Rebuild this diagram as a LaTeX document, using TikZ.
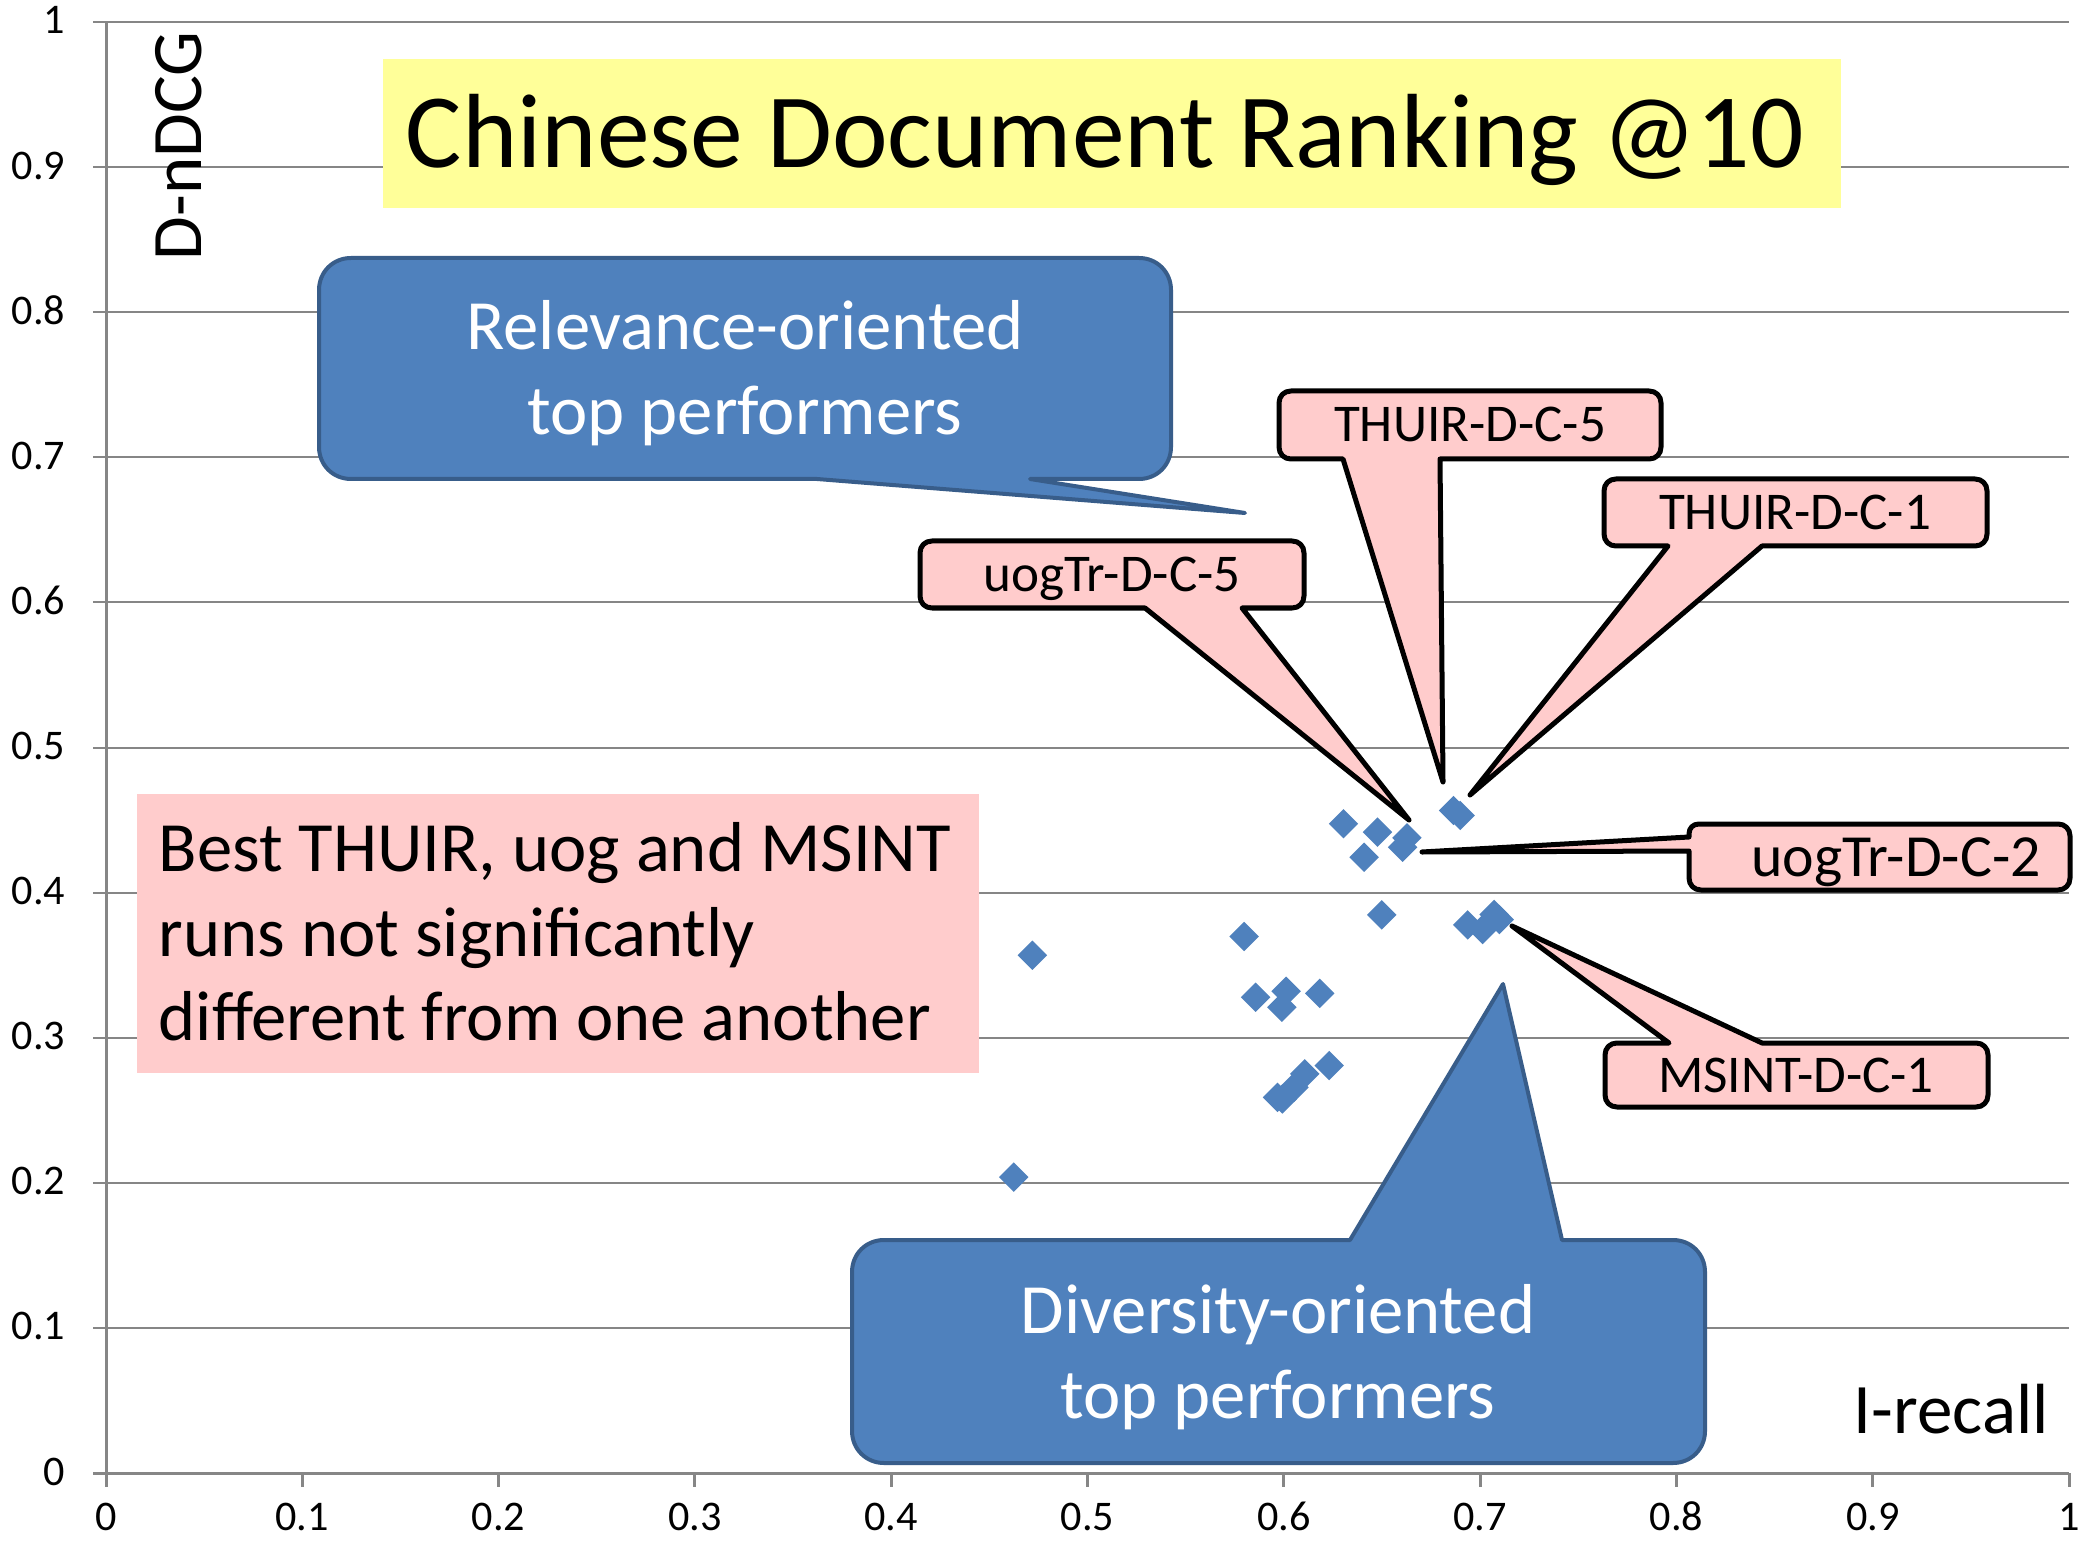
\documentclass[tikz,border=0pt]{standalone}
\usepackage{fontspec}
\setmainfont{Carlito}
\usetikzlibrary{shapes.geometric}

\definecolor{markblue}{HTML}{4F81BD}
\definecolor{calloutedge}{HTML}{385D8A}
\definecolor{notepink}{HTML}{FFCCCC}
\definecolor{titleyellow}{HTML}{FFFF99}
\definecolor{gridgray}{HTML}{868686}

\begin{document}
% one unit = 0.01cm, y grows downwards (page pixel grid 2082 x 1543)
\begin{tikzpicture}[x=0.01cm, y=-0.01cm,
  gridline/.style={draw=gridgray, line width=0.02cm},
  axisline/.style={draw=gridgray, line width=0.03cm},
  ticklabel/.style={font=\fontsize{12}{14}\selectfont, inner sep=0pt},
  axistitle/.style={font=\fontsize{20.2}{24}\selectfont, inner sep=0pt},
  marker/.style={diamond, fill=markblue, draw=none, inner sep=0pt,
    minimum width=0.3cm, minimum height=0.3cm},
  bluecallout/.style={fill=markblue, draw=calloutedge, line width=0.04cm, line join=round},
  pinkcallout/.style={fill=notepink, draw=black, line width=0.05cm, line join=round},
  bluetext/.style={text=white, font=\fontsize{20.1}{24}\selectfont, inner sep=0pt, anchor=base},
  notetext/.style={font=\fontsize{20.1}{24}\selectfont, inner sep=0pt, anchor=base west},
  runlabel/.style={font=\fontsize{15.1}{18}\selectfont, inner sep=0pt, anchor=base},
  titletext/.style={font=\fontsize{30}{36}\selectfont, inner sep=0pt, anchor=base}]

\useasboundingbox (0,0) rectangle (2082,1543);
\fill[white] (0,0) rectangle (2082,1543);

% horizontal gridlines and y ticks
\foreach \k in {1,...,10}
  \draw[gridline] (93,{1473-145.1*\k}) -- (2069,{1473-145.1*\k});

% axes
\draw[axisline] (106,22) -- (106,1473);
\draw[axisline] (93,1473) -- (2069,1473);
\foreach \k in {0,...,10}
  \draw[axisline] ({106+196.3*\k},1473) -- ({106+196.3*\k},1487);

% tick labels
\foreach \k/\t in {0/0,1/0.1,2/0.2,3/0.3,4/0.4,5/0.5,6/0.6,7/0.7,8/0.8,9/0.9,10/1} {
  \node[ticklabel, anchor=base east] (ylab\k) at (66,{1473-145.1*\k+12}) {\t};
  \node[ticklabel, anchor=base, text depth=0pt] (xlab\k) at ({106+196.3*\k},1530) {\t};
}

% title
\fill[titleyellow] (383,59) rectangle (1841,208);
\node[titletext] (title) at (1105,168) {Chinese Document Ranking @10};

% axis titles
\node[axistitle, rotate=90, anchor=base west] (ytitle) at (201,261) {D-nDCG};
\node[axistitle, anchor=base west] (xtitle) at (1853,1433) {I-recall};

% runs (I-recall, D-nDCG)
\begin{scope}[shift={(1.06cm,-14.73cm)}, x=19.63cm, y=14.51cm]
  \foreach \px/\py [count=\i] in {
      0.6300/0.4478, 0.6473/0.4420, 0.6623/0.4381, 0.6601/0.4316,
      0.6405/0.4247, 0.6860/0.4569, 0.6894/0.4535, 0.6495/0.3850,
      0.5794/0.3701, 0.6932/0.3781, 0.7008/0.3749, 0.7067/0.3853,
      0.7093/0.3818, 0.5853/0.3283, 0.6008/0.3324, 0.5986/0.3214,
      0.6179/0.3310, 0.6227/0.2812, 0.6103/0.2755, 0.6048/0.2662,
      0.5989/0.2582, 0.5964/0.2593, 0.4716/0.3572, 0.4621/0.2044}
    \node[marker] (run\i) at (\px,\py) {};
\end{scope}

% note box
\fill[notepink] (137,794) rectangle (979,1073);
\node[notetext] (note1) at (158,871) {Best THUIR, uog and MSINT};
\node[notetext] (note2) at (158,956) {runs not significantly};
\node[notetext] (note3) at (158,1040) {different from one another};

% relevance-oriented callout
\draw[bluecallout] (351,258) -- (1139,258) .. controls (1157,258) and (1171,272) .. (1171,290)
  -- (1171,447) .. controls (1171,465) and (1157,479) .. (1139,479)
  -- (1030,479) -- (1245,513) -- (817,479)
  -- (351,479) .. controls (333,479) and (319,465) .. (319,447)
  -- (319,290) .. controls (319,272) and (333,258) .. (351,258) -- cycle;
\node[bluetext] (rel1) at (745,350) {Relevance-oriented};
\node[bluetext] (rel2) at (745,435) {top performers};

% diversity-oriented callout
\draw[bluecallout] (884,1240) -- (1350,1240) -- (1503,984) -- (1562,1240)
  -- (1673,1240) .. controls (1691,1240) and (1705,1254) .. (1705,1272)
  -- (1705,1431) .. controls (1705,1449) and (1691,1463) .. (1673,1463)
  -- (884,1463) .. controls (866,1463) and (852,1449) .. (852,1431)
  -- (852,1272) .. controls (852,1254) and (866,1240) .. (884,1240) -- cycle;
\node[bluetext] (div1) at (1278,1333) {Diversity-oriented};
\node[bluetext] (div2) at (1278,1418) {top performers};

% uogTr-D-C-5
\draw[pinkcallout] (932,541) -- (1292,541) .. controls (1299,541) and (1304,546) .. (1304,553)
  -- (1304,596) .. controls (1304,603) and (1299,608) .. (1292,608)
  -- (1242,608) -- (1409,820) -- (1145,608)
  -- (932,608) .. controls (925,608) and (920,603) .. (920,596)
  -- (920,553) .. controls (920,546) and (925,541) .. (932,541) -- cycle;
\node[runlabel] (lu5) at (1112,592) {uogTr-D-C-5};

% THUIR-D-C-5
\draw[pinkcallout] (1291,391) -- (1649,391) .. controls (1656,391) and (1661,396) .. (1661,403)
  -- (1661,447) .. controls (1661,454) and (1656,459) .. (1649,459)
  -- (1440,459) -- (1443,782) -- (1343,459)
  -- (1291,459) .. controls (1284,459) and (1279,454) .. (1279,447)
  -- (1279,403) .. controls (1279,396) and (1284,391) .. (1291,391) -- cycle;
\node[runlabel] (lt5) at (1470,442) {THUIR-D-C-5};

% THUIR-D-C-1
\draw[pinkcallout] (1616,479) -- (1975,479) .. controls (1982,479) and (1987,484) .. (1987,491)
  -- (1987,534) .. controls (1987,541) and (1982,546) .. (1975,546)
  -- (1762,546) -- (1470,795) -- (1668,546)
  -- (1616,546) .. controls (1609,546) and (1604,541) .. (1604,534)
  -- (1604,491) .. controls (1604,484) and (1609,479) .. (1616,479) -- cycle;
\node[runlabel] (lt1) at (1795,530) {THUIR-D-C-1};

% uogTr-D-C-2
\draw[pinkcallout] (1699,824) -- (2058,824) .. controls (2065,824) and (2070,829) .. (2070,836)
  -- (2070,878) .. controls (2070,885) and (2065,890) .. (2058,890)
  -- (1701,890) .. controls (1694,890) and (1689,885) .. (1689,878)
  -- (1689,851) -- (1422,852) -- (1689,837)
  -- (1689,834) .. controls (1689,828) and (1693,824) .. (1699,824) -- cycle;
\node[runlabel, font=\fontsize{17}{20}\selectfont] (lu2) at (1896,876) {uogTr-D-C-2};

% MSINT-D-C-1
\draw[pinkcallout] (1617,1043) -- (1669,1043) -- (1512,926) -- (1762,1043)
  -- (1976,1043) .. controls (1983,1043) and (1988,1048) .. (1988,1055)
  -- (1988,1095) .. controls (1988,1102) and (1983,1107) .. (1976,1107)
  -- (1617,1107) .. controls (1610,1107) and (1605,1102) .. (1605,1095)
  -- (1605,1055) .. controls (1605,1048) and (1610,1043) .. (1617,1043) -- cycle;
\node[runlabel] (lm1) at (1796,1092) {MSINT-D-C-1};

\end{tikzpicture}
\end{document}
